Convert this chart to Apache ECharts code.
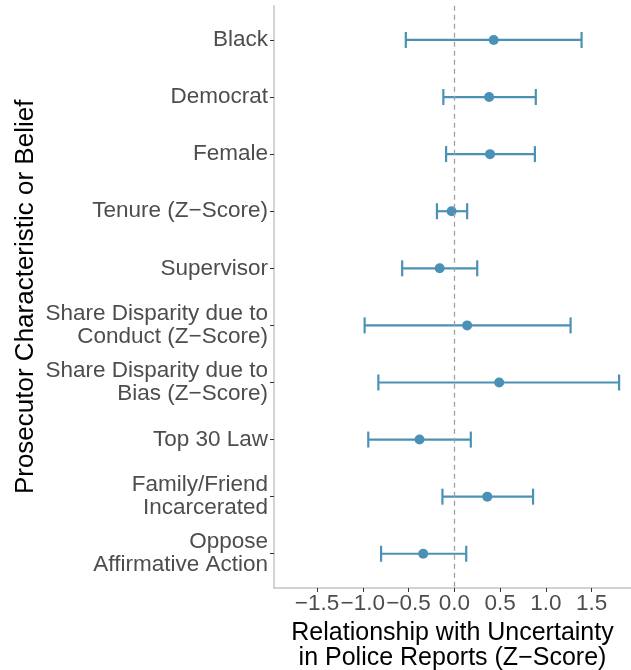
<!DOCTYPE html>
<html>
<head>
<meta charset="utf-8">
<script src="https://cdn.jsdelivr.net/npm/echarts@6/dist/echarts.min.js"></script>
<style>
  html, body { margin: 0; padding: 0; background: #fff; }
  #chart { width: 631px; height: 670px; }
</style>
</head>
<body>
<div id="chart"></div>
<script>
// categories top to bottom
var labels = ['Black', 'Democrat', 'Female', 'Tenure (Z\u2212Score)', 'Supervisor',
  'Share Disparity due to\nConduct (Z\u2212Score)', 'Share Disparity due to\nBias (Z\u2212Score)',
  'Top 30 Law', 'Family/Friend\nIncarcerated', 'Oppose\nAffirmative Action'];
var estimate = [0.43, 0.38, 0.39, -0.03, -0.16, 0.14, 0.49, -0.38, 0.36, -0.34];
var lower = [-0.53, -0.12, -0.09, -0.19, -0.57, -0.98, -0.83, -0.94, -0.13, -0.80];
var upper = [1.39, 0.89, 0.88, 0.14, 0.25, 1.27, 1.80, 0.18, 0.86, 0.13];
var xTicks = [-1.5, -1.0, -0.5, 0.0, 0.5, 1.0, 1.5];
var yTicks = [1, 2, 3, 4, 5, 6, 7, 8, 9, 10];

var blue = '#4b91b6';

var barData = labels.map(function (l, i) { return [lower[i], upper[i], i + 1]; });
var pointData = labels.map(function (l, i) { return [estimate[i], i + 1]; });

var chart = echarts.init(document.getElementById('chart'));
chart.setOption({
  animation: false,
  grid: { left: 274, right: 0, top: 5.7, bottom: 82, outerBoundsMode: 'none', containLabel: false },
  xAxis: {
    type: 'value', min: -1.97, max: 1.93,
    name: 'Relationship with Uncertainty\nin Police Reports (Z\u2212Score)',
    nameLocation: 'middle', nameGap: 33,
    nameTextStyle: { fontFamily: 'Liberation Sans', fontSize: 25, color: '#000', lineHeight: 25 },
    splitLine: { show: false },
    axisLine: { show: true, onZero: false, lineStyle: { color: '#c4c4c4', width: 1.5 } },
    axisTick: { show: true, length: 4, lineStyle: { color: '#333' }, customValues: xTicks },
    axisLabel: {
      customValues: xTicks, margin: 4,
      fontFamily: 'Liberation Sans', fontSize: 22.5, color: '#4d4d4d',
      formatter: function (v) { return (v < 0 ? '\u2212' : '') + Math.abs(v).toFixed(1); }
    }
  },
  yAxis: {
    type: 'value', min: 0.4, max: 10.6, inverse: true,
    name: 'Prosecutor Characteristic or Belief',
    nameLocation: 'middle', nameRotate: 90, nameGap: 235, nameMoveOverlap: false,
    nameTextStyle: { fontFamily: 'Liberation Sans', fontSize: 26, color: '#000' },
    splitLine: { show: false },
    axisLine: { show: true, onZero: false, lineStyle: { color: '#c4c4c4', width: 1.5 } },
    axisTick: { show: true, length: 4, lineStyle: { color: '#333' }, customValues: yTicks },
    axisLabel: {
      customValues: yTicks, margin: 6,
      fontFamily: 'Liberation Sans', fontSize: 22.5, color: '#4d4d4d', lineHeight: 23,
      formatter: function (v) { return labels[Math.round(v) - 1] || ''; }
    }
  },
  series: [
    {
      type: 'custom',
      data: barData,
      encode: { x: [0, 1], y: 2 },
      renderItem: function (params, api) {
        var y = api.value(2);
        var p1 = api.coord([api.value(0), y]);
        var p2 = api.coord([api.value(1), y]);
        var h = 8;
        var style = { stroke: blue, lineWidth: 2.2 };
        return {
          type: 'group',
          children: [
            { type: 'line', shape: { x1: p1[0], y1: p1[1], x2: p2[0], y2: p2[1] }, style: style },
            { type: 'line', shape: { x1: p1[0], y1: p1[1] - h, x2: p1[0], y2: p1[1] + h }, style: style },
            { type: 'line', shape: { x1: p2[0], y1: p2[1] - h, x2: p2[0], y2: p2[1] + h }, style: style }
          ]
        };
      },
      markLine: {
        silent: true, symbol: 'none', label: { show: false },
        lineStyle: { color: '#a0a0a0', type: [5, 4], width: 1.3 },
        data: [{ xAxis: 0 }]
      },
      z: 2
    },
    {
      type: 'scatter',
      data: pointData,
      symbol: 'circle', symbolSize: 10,
      itemStyle: { color: blue, opacity: 1 },
      z: 3
    }
  ]
});
</script>
</body>
</html>
